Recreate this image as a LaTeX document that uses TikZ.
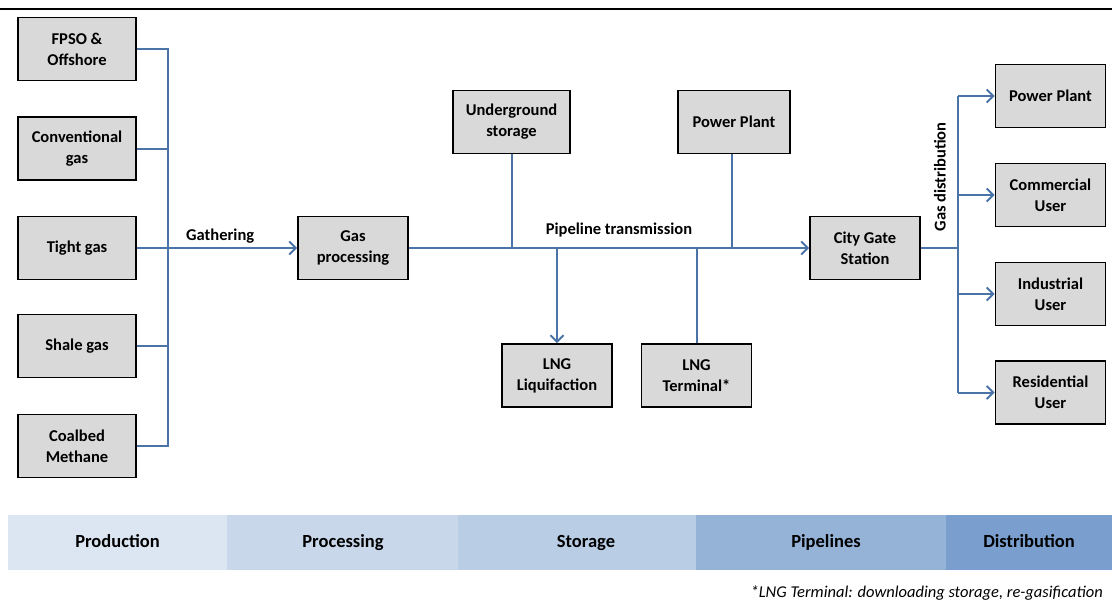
\documentclass[tikz,border=0pt]{standalone}
\usepackage{fontspec}
\setmainfont{Carlito}
\usetikzlibrary{arrows.meta}
\definecolor{pipe}{HTML}{4A74A8}
\definecolor{boxfill}{HTML}{D9D9D9}
\definecolor{stageA}{HTML}{DCE6F2}
\definecolor{stageB}{HTML}{C8D7EA}
\definecolor{stageC}{HTML}{B9CDE5}
\definecolor{stageD}{HTML}{95B3D7}
\definecolor{stageE}{HTML}{7A9FCE}
\begin{document}
\begin{tikzpicture}[x=1pt,y=-1pt,
  unit/.style={draw=black,line width=1.7pt,fill=boxfill,minimum height=63pt,
    align=center,font=\fontsize{16.5}{21}\selectfont\bfseries,inner sep=2pt},
  wide/.style={unit,minimum width=117pt},
  mid/.style={unit,minimum width=110pt},
  flow/.style={draw=pipe,line width=2pt},
  main/.style={draw=pipe,line width=2.6pt},
  tip/.style={-{Straight Barb[length=6.5pt,width=13pt,line width=2pt]}},
  lbl/.style={font=\fontsize{16.5}{20}\selectfont\bfseries,inner sep=1pt},
  stagetext/.style={font=\fontsize{18.5}{22}\selectfont\bfseries,inner sep=0pt,
    text height=13pt,text depth=4pt},
  stage/.style={minimum height=55pt,inner sep=0pt}]
\useasboundingbox (0,0) rectangle (1112,602);
% rule across the top
\draw[line width=2.4pt] (0,9) -- (1112,9);

% production sources
\node[unit,minimum width=118pt] (fpso) at (77,49) {FPSO \&\\Offshore};
\node[unit,minimum width=118pt] (conv) at (77,148.5) {Conventional\\gas};
\node[unit,minimum width=118pt] (tight) at (77,248) {Tight gas};
\node[unit,minimum width=118pt] (shale) at (77,346) {Shale gas};
\node[unit,minimum width=118pt] (coal) at (77,446) {Coalbed\\Methane};

% processing, storage, pipeline nodes
\node[mid] (proc) at (353,248) {Gas\\processing};
\node[wide] (ugs) at (511.5,122) {Underground\\storage};
\node[unit,minimum width=112pt] (pp1) at (734,122) {Power Plant};
\node[mid] (liq) at (557,375.5) {LNG\\Liquifaction};
\node[mid] (term) at (696.5,375.5) {LNG\\Terminal*};
\node[mid] (gate) at (865,248) {City Gate\\Station};

% consumers
\node[mid] (pp2) at (1050.5,96) {Power Plant};
\node[mid] (comm) at (1050.5,195) {Commercial\\User};
\node[mid] (ind) at (1050.5,294) {Industrial\\User};
\node[mid] (res) at (1050.5,392.5) {Residential\\User};

% x positions of the two manifolds and the power plant tap
\coordinate (gx) at (168,0);
\coordinate (dx) at (958,0);
\coordinate (px) at (732,0);

% gathering manifold
\draw[flow] (fpso.east) -- (fpso.east -| gx) -- (coal.east -| gx) -- (coal.east);
\draw[flow] (conv.east) -- (conv.east -| gx);
\draw[flow] (shale.east) -- (shale.east -| gx);
\draw[main,tip] (tight.east) -- (proc.west)
  node[lbl,pos=0.52,above=2pt] {Gathering};

% transmission line
\draw[main,tip] (proc.east) -- (gate.west)
  node[lbl,pos=0.525,above=9pt] {Pipeline transmission};
\draw[flow] (ugs.south) -- (ugs.south |- proc.east);
\draw[flow] (pp1.south -| px) -- (proc.east -| px);
\draw[flow,tip] (liq.north |- proc.east) -- (liq.north);
\draw[flow] (term.north |- proc.east) -- (term.north);

% distribution manifold
\coordinate (dtop) at (pp2.west -| dx);
\coordinate (dbot) at (res.west -| dx);
\draw[flow] (gate.east) -- (gate.east -| dx);
\draw[flow] (dbot) -- (dtop);
\draw[flow,tip] (dtop) -- (pp2.west);
\draw[flow,tip] (comm.west -| dx) -- (comm.west);
\draw[flow,tip] (ind.west -| dx) -- (ind.west);
\draw[flow,tip] (dbot) -- (res.west);
\node[lbl,rotate=90] (gd) at (940,177) {Gas distribution};

% value-chain band
\node[stage,fill=stageA,minimum width=219pt] (s1) at (117.5,542.5) {};
\node[stage,fill=stageB,minimum width=231pt] (s2) at (342.5,542.5) {};
\node[stage,fill=stageC,minimum width=238pt] (s3) at (577,542.5) {};
\node[stage,fill=stageD,minimum width=250pt] (s4) at (821,542.5) {};
\node[stage,fill=stageE,minimum width=166pt] (s5) at (1029,542.5) {};
\node[stagetext] (t1) at (117.5,543) {Production};
\node[stagetext] (t2) at (343,543) {Processing};
\node[stagetext] (t3) at (586,543) {Storage};
\node[stagetext] (t4) at (826,543) {Pipelines};
\node[stagetext] (t5) at (1029,543) {Distribution};

% footnote
\node[anchor=east,inner sep=0pt,font=\fontsize{16.5}{19}\selectfont\itshape] (note) at (1103,593)
  {*LNG Terminal: downloading storage, re-gasification};
\end{tikzpicture}
\end{document}
